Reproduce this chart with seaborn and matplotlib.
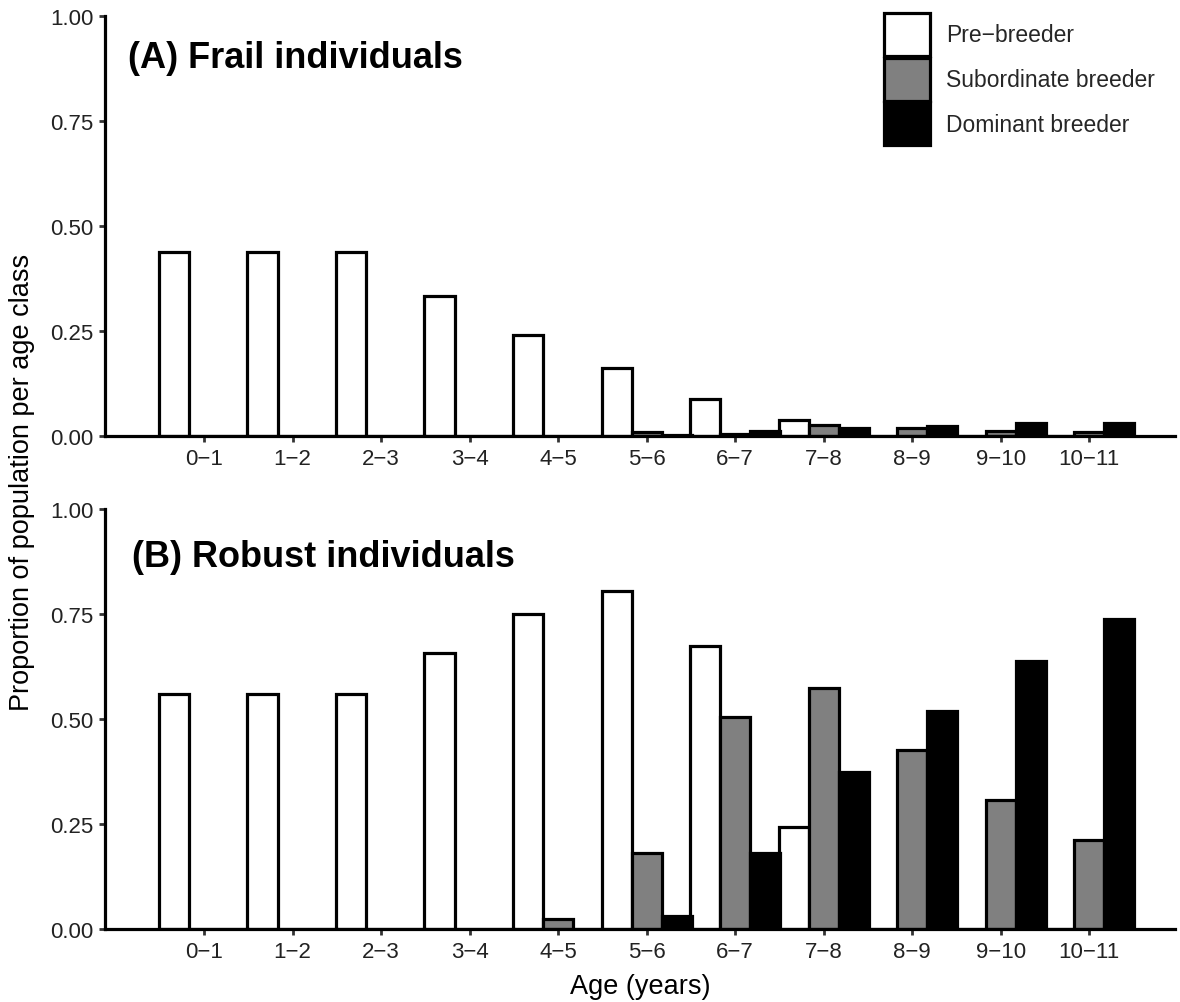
import matplotlib
matplotlib.use("Agg")
import matplotlib.pyplot as plt
from matplotlib.patches import Patch
import seaborn as sns
import pandas as pd

ages = ["0\u22121", "1\u22122", "2\u22123", "3\u22124", "4\u22125", "5\u22126",
        "6\u22127", "7\u22128", "8\u22129", "9\u221210", "10\u221211"]
stages = ["Pre\u2212breeder", "Subordinate breeder", "Dominant breeder"]

frail_pre = [0.437, 0.437, 0.437, 0.333, 0.240, 0.161, 0.088, 0.038, 0.0, 0.0, 0.0]
frail_sub = [0.0, 0.0, 0.0, 0.0, 0.0, 0.009, 0.004, 0.026, 0.020, 0.011, 0.009]
frail_dom = [0.0, 0.0, 0.0, 0.0, 0.0, 0.002, 0.011, 0.018, 0.025, 0.030, 0.032]

robust_pre = [0.560, 0.560, 0.560, 0.658, 0.751, 0.804, 0.675, 0.242, 0.0, 0.0, 0.0]
robust_sub = [0.0, 0.0, 0.0, 0.0, 0.023, 0.182, 0.504, 0.575, 0.427, 0.308, 0.213]
robust_dom = [0.0, 0.0, 0.0, 0.0, 0.0, 0.030, 0.180, 0.373, 0.520, 0.639, 0.737]

yticks = [0.00, 0.25, 0.50, 0.75, 1.00]
ytick_labels = ["0.00", "0.25", "0.50", "0.75", "1.00"]

colors = {stages[0]: "#FFFFFF", stages[1]: "#808080", stages[2]: "#000000"}


def long_df(pre, sub, dom):
    rows = []
    for s, vals in zip(stages, [pre, sub, dom]):
        for a, v in zip(ages, vals):
            rows.append({"age": a, "stage": s, "prop": v})
    return pd.DataFrame(rows)


sns.set_theme(style="ticks")
plt.rcParams["font.family"] = ["Liberation Sans", "DejaVu Sans"]
plt.rcParams["axes.unicode_minus"] = True

fig = plt.figure(figsize=(11.8, 10.03), dpi=100)
W, H = 1180.0, 1003.0
left_px, right_px = 105, 1175
axA = fig.add_axes([left_px / W, 1 - 437 / H, (right_px - left_px) / W, 420 / H])
axB = fig.add_axes([left_px / W, 1 - 930 / H, (right_px - left_px) / W, 420 / H])

panels = [
    (axA, long_df(frail_pre, frail_sub, frail_dom), "(A) Frail individuals", (128 - 105) / 1070, (437 - 68) / 420),
    (axB, long_df(robust_pre, robust_sub, robust_dom), "(B) Robust individuals", (132 - 105) / 1070, (930 - 567) / 420),
]

for ax, df, title, tx, ty in panels:
    sns.barplot(data=df, x="age", y="prop", hue="stage", hue_order=stages,
                order=ages, palette=colors, edgecolor="black", linewidth=2.3,
                width=1.02, gap=0, errorbar=None, ax=ax, legend=False)
    ax.set_xlim(-1.12, 10.97)
    ax.set_ylim(0, 1)
    ax.set_yticks(yticks)
    ax.set_yticklabels(ytick_labels)
    ax.set_xlabel("")
    ax.set_ylabel("")
    for side in ["top", "right"]:
        ax.spines[side].set_visible(False)
    for side in ["left", "bottom"]:
        ax.spines[side].set_linewidth(2.3)
        ax.spines[side].set_color("black")
    ax.tick_params(axis="both", length=4.5, width=2.0, color="#333333",
                   labelsize=16, labelcolor="#222222", pad=4)
    ax.text(tx, ty, title, transform=ax.transAxes, fontsize=26,
            fontweight="bold", ha="left", va="baseline", color="black")
    ax.set_facecolor("white")

handles = [Patch(facecolor=colors[s], edgecolor="black", linewidth=2.3, label=s)
           for s in stages]
leg = axA.legend(handles=handles, loc="upper left",
                 bbox_to_anchor=((884 - 105) / 1070, 1 + 3 / 420),
                 frameon=False, fontsize=16.5, handlelength=2.0,
                 handleheight=2.5, labelspacing=0.08, handletextpad=0.7,
                 borderpad=0.0, borderaxespad=0.0)

fig.text(0.019, 1 - 482 / H, "Proportion of population per age class",
         rotation=90, ha="center", va="center", fontsize=19.5, color="black")
fig.text(640 / W, 0.003, "Age (years)", ha="center", va="bottom",
         fontsize=19.5, color="black")

fig.savefig("out.png", dpi=100, facecolor="white")
